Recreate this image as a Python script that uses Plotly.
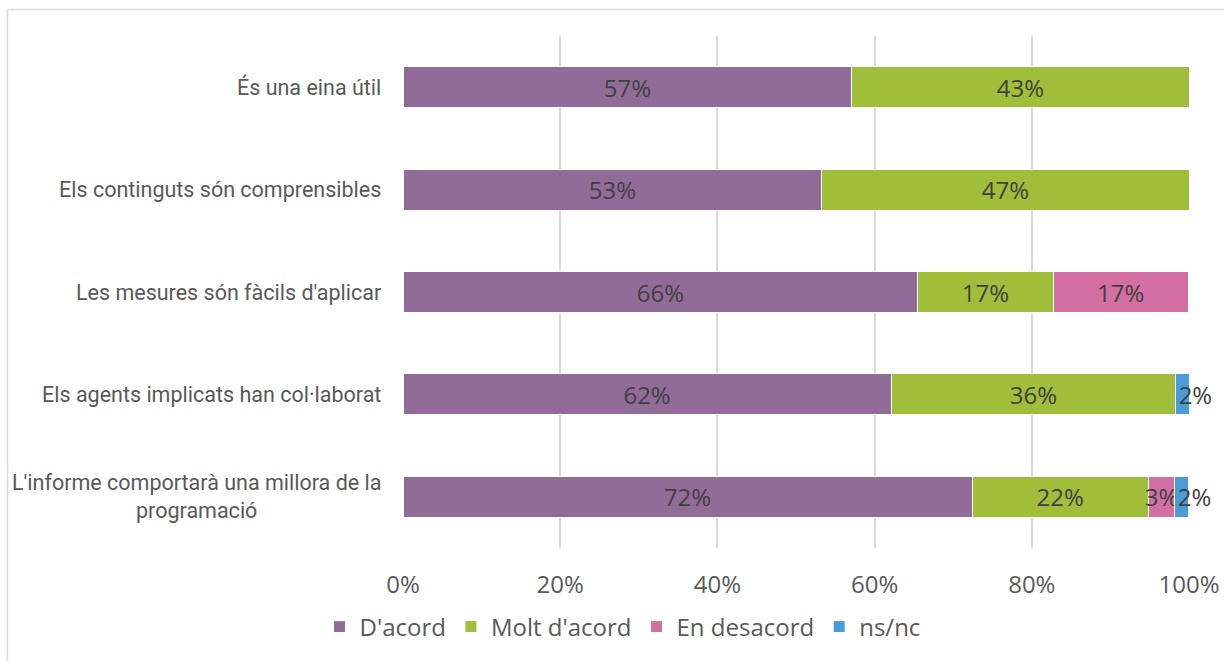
import plotly.graph_objects as go

categories = [
    "És una eina útil",
    "Els continguts són comprensibles",
    "Les mesures són fàcils d'aplicar",
    "Els agents implicats han col·laborat",
    "L'informe comportarà una millora de la<br>programació",
]
series_names = ["D'acord", "Molt d'acord", "En desacord", "ns/nc"]
dacord = [0.571, 0.533, 0.655, 0.621, 0.724]
molt_dacord = [0.429, 0.467, 0.172, 0.362, 0.224]
en_desacord = [0.0, 0.0, 0.172, 0.0, 0.034]
nsnc = [0.0, 0.0, 0.0, 0.017, 0.017]
tick_vals = [0, 0.2, 0.4, 0.6, 0.8, 1.0]
tick_text = ["0%", "20%", "40%", "60%", "80%", "100%"]

colors = ["#926C99", "#A0BE3A", "#D46FA4", "#4A9BDA"]
series = [dacord, molt_dacord, en_desacord, nsnc]
anchors = ["middle", "middle", "middle", "start"]

W, H = 1224, 661
L, T, PW, PH = 403, 36, 786, 512

fig = go.Figure()
for name, vals, col, anc in zip(series_names, series, colors, anchors):
    texts = [f"{round(v*100):.0f}%" if v > 0 else "" for v in vals]
    fig.add_trace(go.Bar(
        y=categories, x=vals, name=name, orientation="h",
        marker=dict(color=col, line=dict(color="white", width=1)),
        text=texts, textposition="inside", insidetextanchor=anc,
        textangle=0,
        textfont=dict(family="Open Sans", size=24, color="#404040"),
        cliponaxis=False,
    ))

for c in categories:
    fig.add_annotation(
        x=0, xref="paper", y=c, yref="y", xanchor="right", xshift=-20,
        text=c, showarrow=False, align="center",
        font=dict(family="Roboto", size=21.5, color="#595959"),
    )

bx = (7.5 - L) / PW
by = (T + PH - 9.5) / PH
fig.add_shape(type="line", xref="paper", yref="paper",
              x0=bx, x1=1.2, y0=by, y1=by,
              line=dict(color="#D9D9D9", width=1.5))
fig.add_shape(type="line", xref="paper", yref="paper",
              x0=bx, x1=bx, y0=-0.3, y1=by,
              line=dict(color="#D9D9D9", width=1.5))

fig.update_layout(
    width=W, height=H,
    barmode="stack", bargap=0.6,
    plot_bgcolor="white", paper_bgcolor="white",
    margin=dict(l=L, r=W - L - PW, t=T, b=H - T - PH, autoexpand=False),
    uniformtext=dict(minsize=24, mode="show"),
    xaxis=dict(range=[0, 1], tickvals=tick_vals, ticktext=tick_text,
               showgrid=True, gridcolor="#D9D9D9", gridwidth=1.5,
               zeroline=False, showline=False, automargin=False,
               tickfont=dict(family="Open Sans", size=24, color="#595959"),
               ticks="outside", ticklen=15, tickcolor="rgba(0,0,0,0)"),
    yaxis=dict(autorange="reversed", showticklabels=False, showgrid=False,
               zeroline=False, automargin=False),
    legend=dict(orientation="h", xref="container", yref="container",
                x=622.5 / W, xanchor="center", y=1 - 627 / H, yanchor="middle",
                font=dict(family="Open Sans", size=24, color="#595959"),
                traceorder="normal", itemwidth=30),
    showlegend=True,
)

fig.write_html(
    "out.html",
    config={"displayModeBar": False},
    post_script="document.body.style.margin='0';document.body.style.overflow='hidden';",
)
